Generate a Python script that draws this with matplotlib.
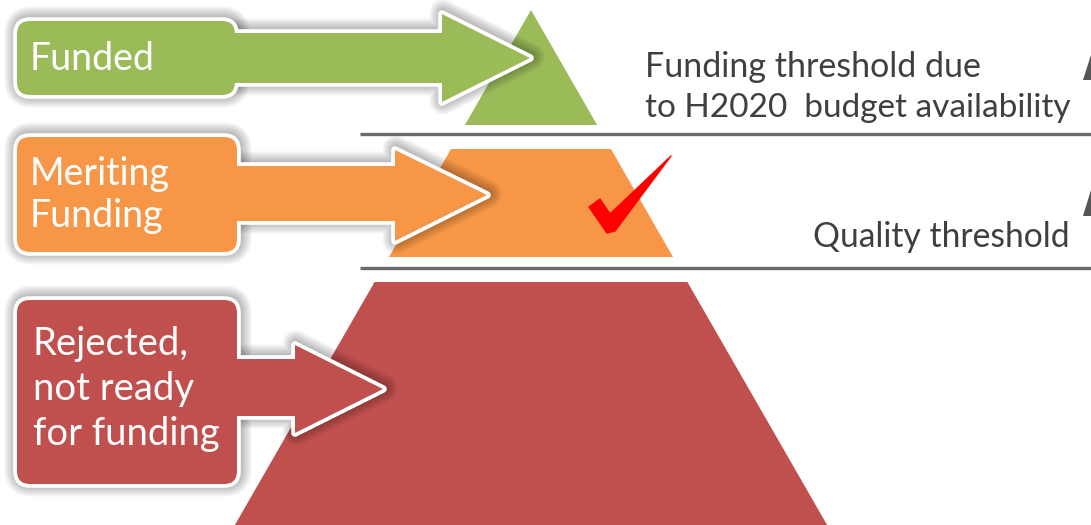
import matplotlib
matplotlib.use("Agg")
import matplotlib.pyplot as plt
from matplotlib.patches import Polygon, FancyBboxPatch

# ---- content ----
categories = [["Funded"], ["Meriting", "Funding"], ["Rejected,", "not ready", "for funding"]]
tier_colors = ["#9BBB59", "#F79646", "#C0504D"]
threshold_labels = [["Funding threshold due", "to H2020  budget availability"], ["Quality threshold"]]

FONT = "Lato"
W, H = 1091, 525
fig = plt.figure(figsize=(W / 100, H / 100), dpi=100)
ax = fig.add_axes([0, 0, 1, 1])
ax.set_xlim(0, W)
ax.set_ylim(H, 0)
ax.axis("off")

# ---- pyramid ----
apex_x, apex_y, slope = 531, 10, 0.575
bands = [(apex_y, 125), (149, 257), (282, 525)]

def half(y):
    return (y - apex_y) * slope

for (y0, y1), c in zip(bands, tier_colors):
    pts = [(apex_x - half(y0), y0), (apex_x + half(y0), y0),
           (apex_x + half(y1), y1), (apex_x - half(y1), y1)]
    ax.add_patch(Polygon(pts, closed=True, fc=c, ec="none", zorder=1))

# threshold lines
for y in (134, 268):
    ax.plot([360, W], [y, y], color="#6a6a6a", lw=2.4, solid_capstyle="butt", zorder=2)

# small cut-off triangles at right edge
for (yt, yb) in ((55, 80), (190, 216)):
    ax.add_patch(Polygon([(1083, yb), (1091, yt), (1092, yt), (1092, yb)], closed=True,
                         fc="#555555", ec="none", zorder=2))

# ---- label boxes with arrows ----
shapes = [
    ((17, 21, 235, 95), (33, 83), 442, (14, 102), (530, 58)),
    ((17, 137, 237, 252), (166, 221), 395, (150, 241), (487, 195)),
    ((17, 300, 237, 484), (359, 416), 295, (345, 433), (383, 389)),
]
text_pos = [(30, [70]), (30, [185, 227]), (33, [355, 400, 445])]
font_sizes = [27, 27, 27.5]

def make_patches(box, shaft, hx, head, tip, dx=0, dy=0, **kw):
    x0, y0, x1, y1 = box
    rect = FancyBboxPatch((x0 + dx, y0 + dy), x1 - x0, y1 - y0,
                          boxstyle="round,pad=0,rounding_size=13", **kw)
    arr = Polygon([(x1 - 10 + dx, shaft[0] + dy), (hx + dx, shaft[0] + dy), (hx + dx, head[0] + dy),
                   (tip[0] + dx, tip[1] + dy), (hx + dx, head[1] + dy), (hx + dx, shaft[1] + dy),
                   (x1 - 10 + dx, shaft[1] + dy)], closed=True, joinstyle="round", **kw)
    return rect, arr

for (box, shaft, hx, head, tip), c, (tx, bls), lines, fs in zip(shapes, tier_colors, text_pos,
                                                                  categories, font_sizes):
    for i in range(7):
        for p in make_patches(box, shaft, hx, head, tip, dx=1, dy=-1,
                              fc="none", ec="black", lw=5 + 2.4 * i, alpha=0.045, zorder=3):
            ax.add_patch(p)
    for p in make_patches(box, shaft, hx, head, tip, fc="white", ec="white", lw=5.5, zorder=4):
        ax.add_patch(p)
    for p in make_patches(box, shaft, hx, head, tip, fc=c, ec="none", zorder=5):
        ax.add_patch(p)
    for line, yb in zip(lines, bls):
        ax.text(tx, yb, line, color="white", fontsize=fs, family=FONT, va="baseline",
                ha="left", zorder=6)

# check mark
check = [(589, 207), (600, 199), (610, 214), (671, 156), (615, 231), (607, 233)]
ax.add_patch(Polygon(check, closed=True, fc="#FF0000", ec="#FF0000", lw=1, joinstyle="round", zorder=6))

# threshold texts
tc = "#3f3f3f"
ax.text(645, 77, threshold_labels[0][0], color=tc, fontsize=24.5, family=FONT, va="baseline", ha="left")
ax.text(645, 117, threshold_labels[0][1], color=tc, fontsize=24, family=FONT, va="baseline", ha="left")
ax.text(1070, 247, threshold_labels[1][0], color=tc, fontsize=24.2, family=FONT, va="baseline", ha="right")

fig.savefig("out.png", dpi=100)
